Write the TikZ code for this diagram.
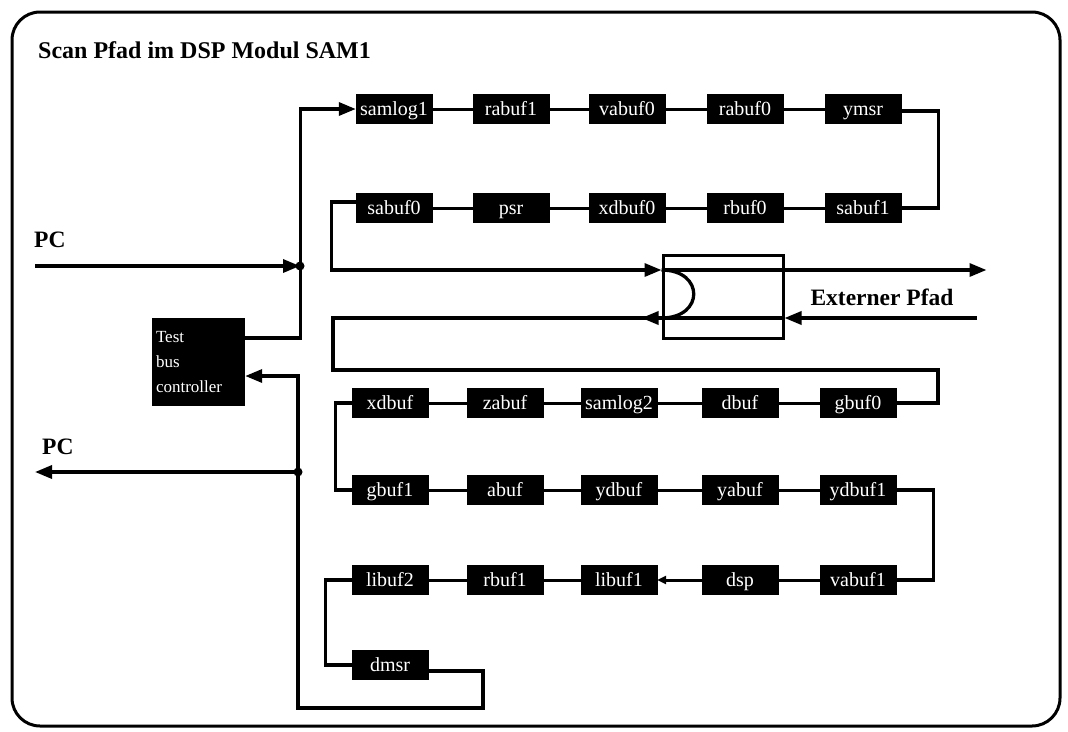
\documentclass[tikz,border=0pt]{standalone}
\usepackage{fontspec}
\setmainfont{Liberation Serif}
\usetikzlibrary{arrows.meta,calc}
\begin{document}
\begin{tikzpicture}[x=1pt,y=-1pt,
  blk/.style={rectangle,fill=black,draw=black,minimum width=76pt,minimum height=29pt,inner sep=0pt,
              text height=14pt,text depth=2pt,text=white,font=\fontsize{20}{22}\selectfont},
  wire/.style={line width=3.3pt,line join=miter},
  link/.style={line width=3pt},
  tip/.style={-{Triangle[length=17pt,width=13pt]}},
  lbl/.style={font=\fontsize{23.5}{27}\selectfont\bfseries,inner sep=0pt},
  jdot/.style={circle,fill=black,inner sep=0pt,minimum size=9pt}]
\useasboundingbox (0,0) rectangle (1068,731);
\draw[line width=3pt,rounded corners=28pt] (12,12) rectangle (1060,726);

% title and labels
\node[lbl,anchor=west,font=\fontsize{24}{28}\selectfont\bfseries] (title) at (38,50) {Scan Pfad im DSP Modul SAM1};
\node[lbl,anchor=west] (pctop) at (34,240) {PC};
\node[lbl,anchor=west] (pcbot) at (42,447) {PC};
\node[lbl] (ext) at (882,297) {Externer Pfad};

% controller
\node[rectangle,fill=black,minimum width=93pt,minimum height=88pt,inner sep=4pt,text=white,align=left,
      font=\fontsize{17}{25}\selectfont,text width=85pt] (ctrl) at (198.5,362) {Test\\bus\\controller};

% row 1
\node[blk] (samlog1) at (394,109) {samlog1};
\node[blk] (rabuf1)  at (511,109) {rabuf1};
\node[blk] (vabuf0)  at (627,109) {vabuf0};
\node[blk] (rabuf0)  at (745,109) {rabuf0};
\node[blk] (ymsr)    at (863,109) {ymsr};
% row 2
\node[blk] (sabuf0)  at (394,208) {sabuf0};
\node[blk] (psr)     at (511,208) {psr};
\node[blk] (xdbuf0)  at (627,208) {xdbuf0};
\node[blk] (rbuf0)   at (745,208) {rbuf0};
\node[blk] (sabuf1)  at (863,208) {sabuf1};
% row 3
\node[blk] (xdbuf)   at (390,403) {xdbuf};
\node[blk] (zabuf)   at (505,403) {zabuf};
\node[blk] (samlog2) at (619,403) {samlog2};
\node[blk] (dbuf)    at (740,403) {dbuf};
\node[blk] (gbuf0)   at (858,403) {gbuf0};
% row 4
\node[blk] (gbuf1)   at (390,490) {gbuf1};
\node[blk] (abuf)    at (505,490) {abuf};
\node[blk] (ydbuf)   at (619,490) {ydbuf};
\node[blk] (yabuf)   at (740,490) {yabuf};
\node[blk] (ydbuf1)  at (858,490) {ydbuf1};
% row 5
\node[blk] (libuf2)  at (390,580) {libuf2};
\node[blk] (rbuf1)   at (505,580) {rbuf1};
\node[blk] (libuf1)  at (619,580) {libuf1};
\node[blk] (dsp)     at (740,580) {dsp};
\node[blk] (vabuf1)  at (858,580) {vabuf1};
% row 6
\node[blk] (dmsr)    at (390,665) {dmsr};

% multiplexer
\node[rectangle,draw=black,line width=3pt,minimum width=120pt,minimum height=83pt,inner sep=0pt] (mux) at (723,296.5) {};
\coordinate (muxinT)  at ([yshift=26.5pt]mux.west);
\coordinate (muxoutT) at ([yshift=26.5pt]mux.east);
\coordinate (muxinB)  at ([yshift=-21.5pt]mux.west);
\coordinate (muxoutB) at ([yshift=-21.5pt]mux.east);
\draw[wire] (muxinT) .. controls ([xshift=43pt]muxinT) and ([xshift=43pt]muxinB) .. (muxinB);
\draw[wire] (muxinB) -- (muxoutB);
\draw[wire,tip] (muxinT) -- (muxoutT) -- ++(202,0);
\coordinate (extin) at (977,318);
\draw[wire,tip] (extin) -- (muxoutB);

% PC input and bus to samlog1
\coordinate (pcin) at (35,266);
\coordinate (j1) at (300,266);
\draw[wire,tip] (pcin) -- (j1);
\node[jdot] (j1dot) at (j1) {};
\draw[wire,tip] ([yshift=24pt]ctrl.east) -- ++(55,0) |- (samlog1.west);

% chain rows 1 and 2
\draw[link] (samlog1) -- (rabuf1) -- (vabuf0) -- (rabuf0) -- (ymsr);
\draw[wire] ([yshift=-2pt]ymsr.east) -- ++(37,0) |- (sabuf1.east);
\draw[link] (sabuf1) -- (rbuf0) -- (xdbuf0) -- (psr) -- (sabuf0);
\draw[wire,tip] ([yshift=6pt]sabuf0.west) -- ++(-24,0) |- (muxinT);

% mux output back to lower chain
\coordinate (c1) at (333,370);
\coordinate (c2) at (938,370);
\draw[wire,tip] (muxinB) -- ++(-20,0);
\draw[wire] (muxinB) -| (c1) -- (c2) |- (gbuf0.east);

% rows 3..6
\draw[link] (gbuf0) -- (dbuf) -- (samlog2) -- (zabuf) -- (xdbuf);
\draw[wire] (xdbuf.west) -- ++(-16,0) |- (gbuf1.west);
\draw[link] (gbuf1) -- (abuf) -- (ydbuf) -- (yabuf) -- (ydbuf1);
\draw[wire] (ydbuf1.east) -- ++(37,0) |- (vabuf1.east);
\draw[link] (vabuf1) -- (dsp);
\draw[link,-{Triangle[length=9pt,width=8pt]}] (dsp) -- (libuf1);
\draw[link] (libuf1) -- (rbuf1) -- (libuf2);
\draw[wire] (libuf2.west) -- ++(-26,0) |- (dmsr.west);

% return to controller
\coordinate (b1) at (483,708);
\coordinate (b2) at (298,708);
\draw[wire,tip] ([yshift=-6pt]dmsr.east) -| (b1) -- (b2) |- ([yshift=-14pt]ctrl.east);

% PC output
\coordinate (j2) at (298,472);
\coordinate (pcout) at (35,472);
\draw[wire,tip] (j2) -- (pcout);
\node[jdot] (j2dot) at (j2) {};
\end{tikzpicture}
\end{document}
